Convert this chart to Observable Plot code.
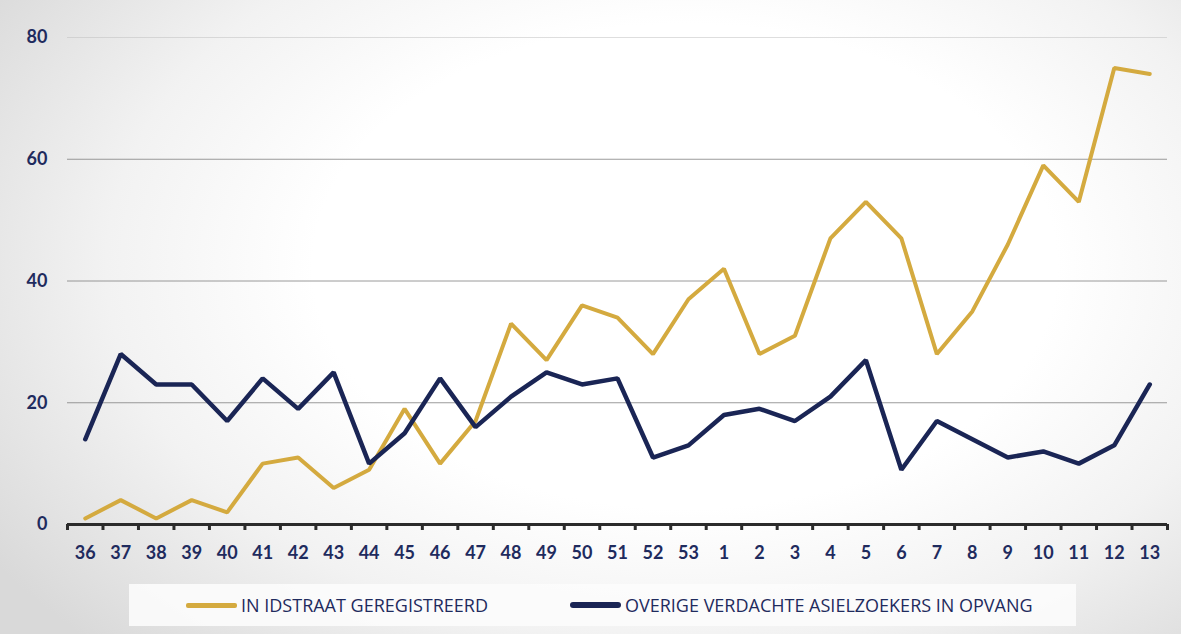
<!DOCTYPE html>
<html>
<head>
<meta charset="utf-8">
<script src="https://cdn.jsdelivr.net/npm/d3@7"></script>
<script src="https://cdn.jsdelivr.net/npm/@observablehq/plot@0.6"></script>
<style>
  html, body { margin: 0; padding: 0; }
  body {
    width: 1181px; height: 634px; overflow: hidden; position: relative;
    background:
      radial-gradient(ellipse 70% 85% at 58% 42%, #ffffff 45%, #f2f2f2 70%, #d9d9d9 100%);
    font-family: Lato, "Open Sans", sans-serif;
  }
  #chart { position: absolute; left: 0; top: 0; }
  #legend {
    position: absolute; left: 129px; top: 584px; width: 947px; height: 42px;
    background: rgba(252,252,252,0.9);
    font-family: "Open Sans", sans-serif;
    font-size: 18px; color: #1f2b5e;
  }
  .item { position: absolute; top: 0; height: 42px; display: flex; align-items: center; }
  .sw { display: inline-block; width: 51px; height: 5px; margin-right: 4px; border-radius: 2px; }
</style>
</head>
<body>
<div id="chart"></div>
<div id="legend">
  <div class="item" style="left:57px"><span class="sw" style="background:#d4aa3f"></span><span id="l1"></span></div>
  <div class="item" style="left:441px"><span class="sw" style="background:#1a2555;height:6px;border-radius:3px"></span><span id="l2"></span></div>
</div>
<script>
const weeks = ["36","37","38","39","40","41","42","43","44","45","46","47","48","49","50","51","52","53","1","2","3","4","5","6","7","8","9","10","11","12","13"];
const idstraat = [1,4,1,4,2,10,11,6,9,19,10,17,33,27,36,34,28,37,42,28,31,47,53,47,28,35,46,59,53,75,74];
const overige = [14,28,23,23,17,24,19,25,10,15,24,16,21,25,23,24,11,13,18,19,17,21,27,9,17,14,11,12,10,13,23];
const yTicks = [0,20,40,60,80];
const seriesNames = ["IN IDSTRAAT GEREGISTREERD", "OVERIGE VERDACHTE ASIELZOEKERS IN OPVANG"];

document.getElementById("l1").textContent = seriesNames[0];
document.getElementById("l2").textContent = seriesNames[1];

const data = weeks.map((w, i) => ({i, week: w, idstraat: idstraat[i], overige: overige[i]}));
const navy = "#1f2b5e";

const chart = Plot.plot({
  width: 1181,
  height: 575,
  marginLeft: 67,
  marginRight: 14,
  marginTop: 37,
  marginBottom: 51,
  style: {background: "transparent", fontFamily: "Lato, 'Open Sans', sans-serif"},
  x: {domain: [-0.5, weeks.length - 0.5], axis: null},
  y: {domain: [0, 80], axis: null},
  marks: [
    Plot.gridY(yTicks.filter(d => d > 0 && d < 80), {stroke: "#7a7a7a", strokeOpacity: 0.75}),
    Plot.gridY([80], {stroke: "#bdbdbd", strokeOpacity: 0.5}),
    Plot.axisY(yTicks, {tickSize: 0, tickPadding: 20, fill: navy, fontSize: 18, fontWeight: 700, label: null}),
    Plot.lineY(data, {x: "i", y: "idstraat", stroke: "#d4aa3f", strokeWidth: 4, strokeLinejoin: "miter"}),
    Plot.lineY(data, {x: "i", y: "overige", stroke: "#1a2555", strokeWidth: 4.5, strokeLinejoin: "miter"}),
    Plot.ruleY([0], {stroke: "#2b2b2b", strokeWidth: 3}),
    Plot.axisX(d3.range(-0.5, weeks.length, 1), {tickSize: 6, tickFormat: () => "", stroke: "#2b2b2b", strokeWidth: 3, label: null}),
    Plot.axisX(d3.range(weeks.length), {tickSize: 0, tickPadding: 22, tickFormat: i => weeks[i], fill: navy, fontSize: 18, fontWeight: 700, label: null})
  ]
});
document.getElementById("chart").appendChild(chart);
</script>
</body>
</html>
